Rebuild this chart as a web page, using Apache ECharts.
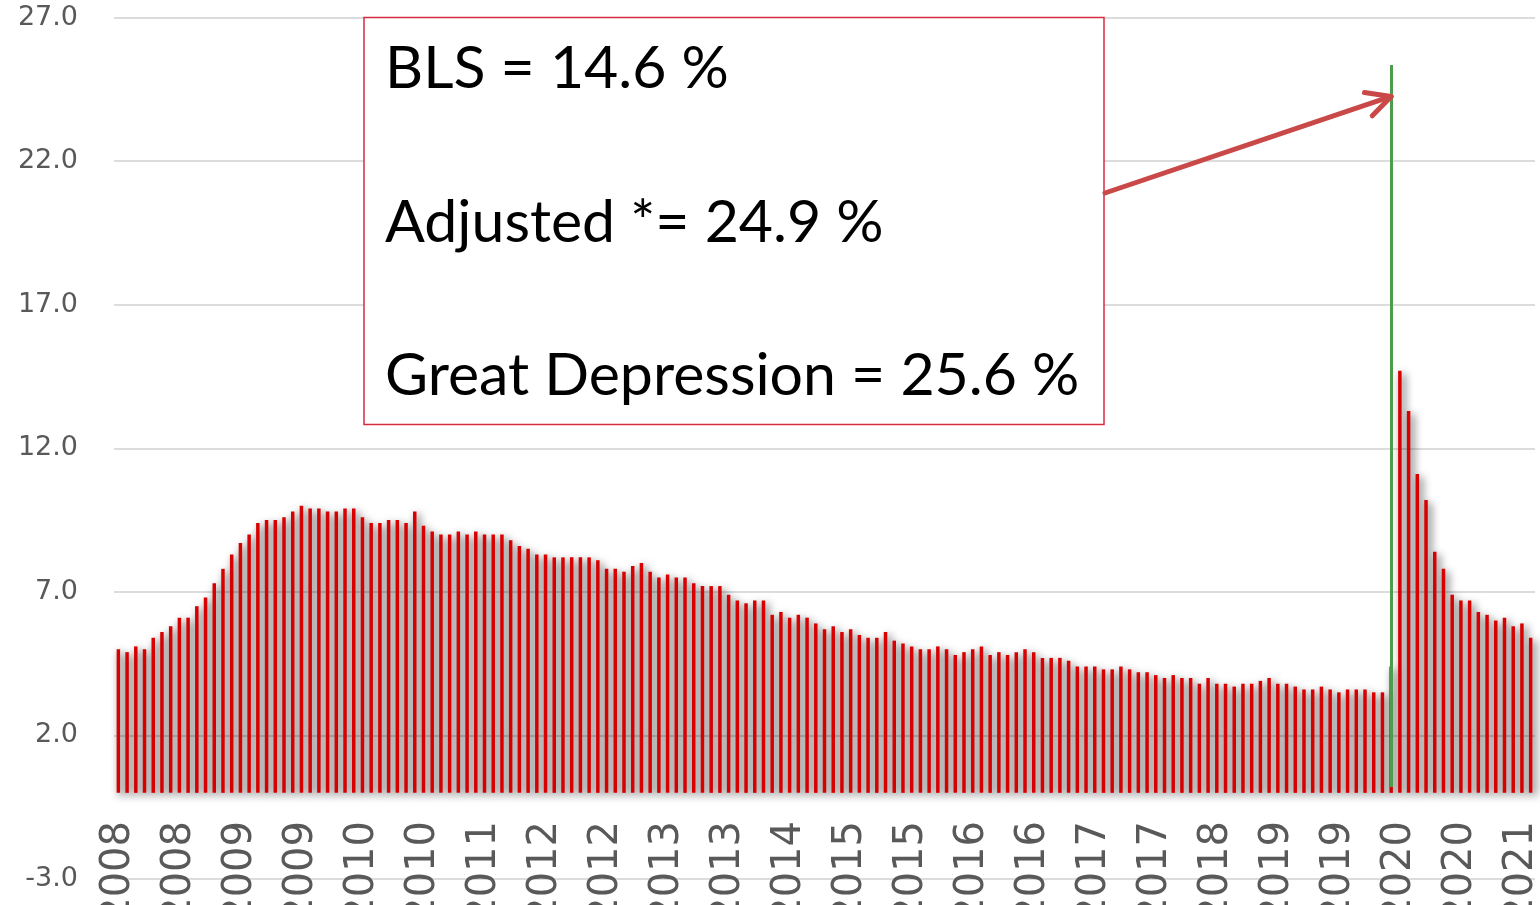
<!DOCTYPE html>
<html>
<head>
<meta charset="utf-8">
<script src="https://cdn.jsdelivr.net/npm/echarts@6.0.0/dist/echarts.min.js"></script>
<style>
html, body { margin: 0; padding: 0; background: #fff; }
#container1 { width: 1540px; height: 905px; }
</style>
</head>
<body>
<div id="container1"></div>
<script>
// monthly unemployment rate, %
var rate2008 = [5.0, 4.9, 5.1, 5.0, 5.4, 5.6, 5.8, 6.1, 6.1, 6.5, 6.8, 7.3];
var rate2009 = [7.8, 8.3, 8.7, 9.0, 9.4, 9.5, 9.5, 9.6, 9.8, 10.0, 9.9, 9.9];
var rate2010 = [9.8, 9.8, 9.9, 9.9, 9.6, 9.4, 9.4, 9.5, 9.5, 9.4, 9.8, 9.3];
var rate2011 = [9.1, 9.0, 9.0, 9.1, 9.0, 9.1, 9.0, 9.0, 9.0, 8.8, 8.6, 8.5];
var rate2012 = [8.3, 8.3, 8.2, 8.2, 8.2, 8.2, 8.2, 8.1, 7.8, 7.8, 7.7, 7.9];
var rate2013 = [8.0, 7.7, 7.5, 7.6, 7.5, 7.5, 7.3, 7.2, 7.2, 7.2, 6.9, 6.7];
var rate2014 = [6.6, 6.7, 6.7, 6.2, 6.3, 6.1, 6.2, 6.1, 5.9, 5.7, 5.8, 5.6];
var rate2015 = [5.7, 5.5, 5.4, 5.4, 5.6, 5.3, 5.2, 5.1, 5.0, 5.0, 5.1, 5.0];
var rate2016 = [4.8, 4.9, 5.0, 5.1, 4.8, 4.9, 4.8, 4.9, 5.0, 4.9, 4.7, 4.7];
var rate2017 = [4.7, 4.6, 4.4, 4.4, 4.4, 4.3, 4.3, 4.4, 4.3, 4.2, 4.2, 4.1];
var rate2018 = [4.0, 4.1, 4.0, 4.0, 3.8, 4.0, 3.8, 3.8, 3.7, 3.8, 3.8, 3.9];
var rate2019 = [4.0, 3.8, 3.8, 3.7, 3.6, 3.6, 3.7, 3.6, 3.5, 3.6, 3.6, 3.6];
var rate2020 = [3.5, 3.5, 4.4, 14.7, 13.3, 11.1, 10.2, 8.4, 7.8, 6.9, 6.7, 6.7];
var rate2021 = [6.3, 6.2, 6.0, 6.1, 5.8, 5.9, 5.4];

var years = [2008, 2009, 2010, 2011, 2012, 2013, 2014, 2015, 2016, 2017, 2018, 2019, 2020, 2021];
var rateByYear = [rate2008, rate2009, rate2010, rate2011, rate2012, rate2013, rate2014,
                  rate2015, rate2016, rate2017, rate2018, rate2019, rate2020, rate2021];

// green marker (covid month) and where the arrow points
var markMonth = '2020-03';
var markRange = [0.2, 25.35];
var arrowTarget = [markMonth, 24.25];

var boxLines = ['BLS = 14.6 %', 'Adjusted *= 24.9 %', 'Great Depression = 25.6 %'];

var months = [];
var rates = [];
years.forEach(function (y, i) {
    rateByYear[i].forEach(function (v, m) {
        months.push(y + '-' + (m < 9 ? '0' : '') + (m + 1));
        rates.push(v);
    });
});

var dom = document.getElementById('container1');
var myChart = echarts.init(dom);

var option = {
    animation: false,
    grid: { left: 114, right: 5, top: 17.5, bottom: 26, containLabel: false, outerBoundsMode: 'none' },
    xAxis: {
        type: 'category',
        data: months,
        boundaryGap: true,
        axisLine: { show: false, onZero: false },
        axisTick: { show: false },
        axisLabel: {
            interval: 6,
            rotate: 90,
            // labels hang just under the zero line, above the -3 gridline
            margin: -58,
            color: '#595959',
            fontFamily: 'DejaVu Sans',
            fontSize: 40,
            formatter: function (v) { return v.slice(0, 4); }
        }
    },
    yAxis: {
        type: 'value',
        min: -3,
        max: 27,
        interval: 5,
        axisLine: { show: false },
        axisTick: { show: false },
        axisLabel: {
            margin: 36,
            color: '#595959',
            fontFamily: 'DejaVu Sans',
            fontSize: 27,
            formatter: function (v) { return v.toFixed(1); }
        },
        splitLine: { lineStyle: { color: '#dcdcdc', width: 2 } }
    },
    series: [
        {
            name: 'Unemployment',
            type: 'bar',
            data: rates,
            barWidth: 3.5,
            itemStyle: {
                color: '#d80000',
                shadowColor: 'rgba(0,0,0,0.75)',
                shadowBlur: 8,
                shadowOffsetX: 3,
                shadowOffsetY: 3
            },
            markLine: {
                silent: true,
                symbol: ['none', 'none'],
                label: { show: false },
                lineStyle: { color: '#4f9b4c', width: 3, type: 'solid' },
                data: [[
                    { coord: [markMonth, markRange[0]] },
                    { coord: [markMonth, markRange[1]] }
                ]]
            }
        }
    ]
};

myChart.setOption(option);

// annotation: text box + arrow pointing at the marker
var tip = myChart.convertToPixel({ xAxisIndex: 0, yAxisIndex: 0 }, arrowTarget);
var tail = [1105, 193];
var ang = Math.atan2(tail[1] - tip[1], tail[0] - tip[0]);
var armLen = 27, armAng = 27 * Math.PI / 180;
var arm1 = [tip[0] + armLen * Math.cos(ang + armAng), tip[1] + armLen * Math.sin(ang + armAng)];
var arm2 = [tip[0] + armLen * Math.cos(ang - armAng), tip[1] + armLen * Math.sin(ang - armAng)];
var arrowStyle = { stroke: '#c94848', lineWidth: 5, lineCap: 'round', lineJoin: 'round', fill: null };

var textEls = boxLines.map(function (t, i) {
    return {
        type: 'text',
        x: 385,
        y: 69 + i * 153.5,
        style: {
            text: t,
            fill: '#000',
            font: '59px Lato',
            verticalAlign: 'middle',
            align: 'left'
        },
        z: 101
    };
});

myChart.setOption({
    graphic: [
        {
            type: 'rect',
            shape: { x: 364, y: 17.5, width: 740, height: 407 },
            style: { fill: '#fff', stroke: '#d92b40', lineWidth: 1.5 },
            z: 100
        },
        {
            type: 'polyline',
            shape: { points: [tail, tip] },
            style: arrowStyle,
            z: 100
        },
        {
            type: 'polyline',
            shape: { points: [arm1, tip, arm2] },
            style: arrowStyle,
            z: 100
        }
    ].concat(textEls)
});
</script>
</body>
</html>
